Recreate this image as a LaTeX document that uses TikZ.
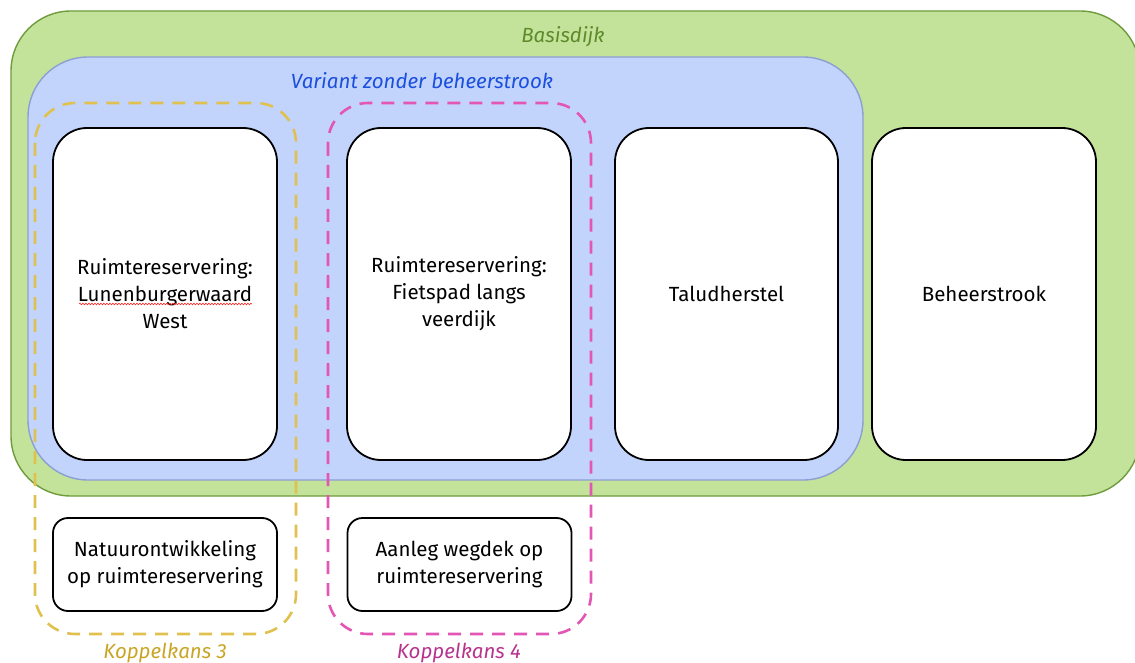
\documentclass[tikz,border=0pt]{standalone}
\usepackage{fontspec}
\setmainfont{Fira Sans}
\usetikzlibrary{decorations.pathmorphing}
\definecolor{gfill}{HTML}{C4E39A}
\definecolor{gline}{HTML}{6E9C3C}
\definecolor{gtext}{HTML}{5E8A2C}
\definecolor{bfill}{HTML}{C2D4FB}
\definecolor{bline}{HTML}{8C9FD2}
\definecolor{btext}{HTML}{1B4FDD}
\definecolor{yline}{HTML}{E0C150}
\definecolor{ytext}{HTML}{C9A526}
\definecolor{pline}{HTML}{E456B4}
\definecolor{ptext}{HTML}{B7338E}
\tikzset{
  x=1pt, y=-1pt,
  area/.style={rounded corners=60pt, line width=1.4pt},
  koppel/.style={rounded corners=40pt, line width=2.6pt, dash pattern=on 13pt off 9pt},
  bigbox/.style={draw=black, fill=white, line width=1.8pt, rounded corners=34pt,
    minimum width=224pt, minimum height=332pt, align=center, inner sep=0pt,
    font=\fontsize{20.5}{27}\selectfont},
  smallbox/.style={draw=black, fill=white, line width=1.8pt, rounded corners=15pt,
    minimum width=224pt, minimum height=93pt, align=center, inner sep=0pt,
    font=\fontsize{20.5}{27}\selectfont},
  lbl/.style={font=\fontsize{20.5}{24}\selectfont\itshape, inner sep=0pt}
}
\begin{document}
\begin{tikzpicture}
\useasboundingbox (0,0) rectangle (1135,663);
\clip (0,0) rectangle (1135,663);
\draw[area, fill=gfill, draw=gline] (11,11) rectangle (1140,496);
\draw[area, fill=bfill, draw=bline] (28,57) rectangle (863,480);
\node[lbl, text=gtext] (basis) at (563,37) {Basisdijk};
\node[lbl, text=btext] (variant) at (422,81) {Variant zonder beheerstrook};
\draw[koppel, draw=yline] (35,103) rectangle (296,634);
\draw[koppel, draw=pline] (328,103) rectangle (591,634);
\node[lbl, text=ytext] (k3) at (165,653) {Koppelkans 3};
\node[lbl, text=ptext] (k4) at (459,653) {Koppelkans 4};
\node[bigbox] (lun) at (165,294) {Ruimtereservering:\\Lunenburgerwaard\\West};
\node[bigbox] (fiets) at (459,294) {Ruimtereservering:\\Fietspad langs\\veerdijk};
\node[bigbox, minimum width=223pt] (talud) at (726.5,294) {Taludherstel};
\node[bigbox] (beheer) at (984,294) {Beheerstrook};
\node[smallbox] (natuur) at (165,564.5) {Natuurontwikkeling\\op ruimtereservering};
\node[smallbox] (aanleg) at (459.5,564.5) {Aanleg wegdek op\\ruimtereservering};
\coordinate (sq1) at (79,304);
\coordinate (sq2) at (252,304);
\draw[red!85!white, line width=0.6pt, decorate, decoration={snake, amplitude=0.8pt, segment length=3pt}] (sq1) -- (sq2);
\end{tikzpicture}
\end{document}
